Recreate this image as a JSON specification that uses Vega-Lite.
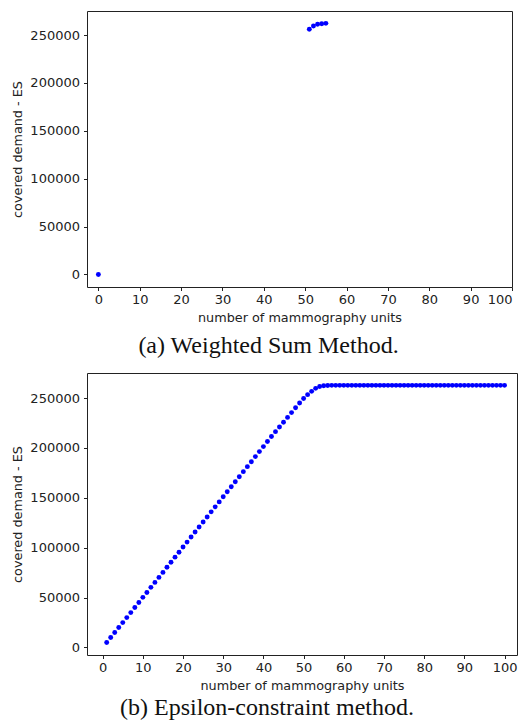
{
  "$schema": "https://vega.github.io/schema/vega-lite/v6.json",
  "padding": {"left": 11, "top": 10, "right": 3, "bottom": 3},
  "background": "white",
  "config": {
    "view": {"stroke": "#222222", "strokeWidth": 1},
    "axis": {
      "grid": false, "domain": false, "tickColor": "#222222", "tickSize": 3.5, "tickWidth": 1,
      "labelFont": "DejaVu Sans", "labelFontSize": 13, "labelColor": "#222222", "labelPadding": 3,
      "titleFont": "DejaVu Sans", "titleFontSize": 12.8, "titleFontWeight": "normal", "titleColor": "#222222"
    },
    "title": {"font": "Liberation Serif", "fontSize": 24, "fontWeight": "normal", "color": "#111111"}
  },
  "datasets": {
    "ws": [
      {"units": 0, "demand": 0},
      {"units": 51, "demand": 256000},
      {"units": 52, "demand": 259400},
      {"units": 53, "demand": 261200},
      {"units": 54, "demand": 261800},
      {"units": 55, "demand": 262200}
    ],
    "eps": [
      {"units": 1, "demand": 4900}, {"units": 2, "demand": 9900}, {"units": 3, "demand": 14900},
      {"units": 4, "demand": 19900}, {"units": 5, "demand": 24900}, {"units": 6, "demand": 29900},
      {"units": 7, "demand": 34900}, {"units": 8, "demand": 40000}, {"units": 9, "demand": 45000},
      {"units": 10, "demand": 50200}, {"units": 11, "demand": 55100}, {"units": 12, "demand": 60200},
      {"units": 13, "demand": 65200}, {"units": 14, "demand": 70200}, {"units": 15, "demand": 75200},
      {"units": 16, "demand": 80400}, {"units": 17, "demand": 85400}, {"units": 18, "demand": 90500},
      {"units": 19, "demand": 95400}, {"units": 20, "demand": 100700}, {"units": 21, "demand": 105600},
      {"units": 22, "demand": 110700}, {"units": 23, "demand": 115700}, {"units": 24, "demand": 120700},
      {"units": 25, "demand": 125800}, {"units": 26, "demand": 130800}, {"units": 27, "demand": 135900},
      {"units": 28, "demand": 140900}, {"units": 29, "demand": 145900}, {"units": 30, "demand": 151000},
      {"units": 31, "demand": 156000}, {"units": 32, "demand": 161000}, {"units": 33, "demand": 166100},
      {"units": 34, "demand": 171100}, {"units": 35, "demand": 176200}, {"units": 36, "demand": 181200},
      {"units": 37, "demand": 186200}, {"units": 38, "demand": 191300}, {"units": 39, "demand": 196300},
      {"units": 40, "demand": 201300}, {"units": 41, "demand": 206400}, {"units": 42, "demand": 211400},
      {"units": 43, "demand": 216300}, {"units": 44, "demand": 221000}, {"units": 45, "demand": 225800},
      {"units": 46, "demand": 230600}, {"units": 47, "demand": 235400}, {"units": 48, "demand": 240200},
      {"units": 49, "demand": 245000}, {"units": 50, "demand": 249600}, {"units": 51, "demand": 253400},
      {"units": 52, "demand": 256700}, {"units": 53, "demand": 259700}, {"units": 54, "demand": 261500},
      {"units": 55, "demand": 262300}, {"units": 56, "demand": 262600}, {"units": 57, "demand": 262700},
      {"units": 58, "demand": 262700}, {"units": 59, "demand": 262700}, {"units": 60, "demand": 262700},
      {"units": 61, "demand": 262700}, {"units": 62, "demand": 262700}, {"units": 63, "demand": 262700},
      {"units": 64, "demand": 262700}, {"units": 65, "demand": 262700}, {"units": 66, "demand": 262700},
      {"units": 67, "demand": 262700}, {"units": 68, "demand": 262700}, {"units": 69, "demand": 262700},
      {"units": 70, "demand": 262700}, {"units": 71, "demand": 262700}, {"units": 72, "demand": 262700},
      {"units": 73, "demand": 262700}, {"units": 74, "demand": 262700}, {"units": 75, "demand": 262700},
      {"units": 76, "demand": 262700}, {"units": 77, "demand": 262700}, {"units": 78, "demand": 262700},
      {"units": 79, "demand": 262700}, {"units": 80, "demand": 262700}, {"units": 81, "demand": 262700},
      {"units": 82, "demand": 262700}, {"units": 83, "demand": 262700}, {"units": 84, "demand": 262700},
      {"units": 85, "demand": 262700}, {"units": 86, "demand": 262700}, {"units": 87, "demand": 262700},
      {"units": 88, "demand": 262700}, {"units": 89, "demand": 262700}, {"units": 90, "demand": 262700},
      {"units": 91, "demand": 262700}, {"units": 92, "demand": 262700}, {"units": 93, "demand": 262700},
      {"units": 94, "demand": 262700}, {"units": 95, "demand": 262700}, {"units": 96, "demand": 262700},
      {"units": 97, "demand": 262700}, {"units": 98, "demand": 262700}, {"units": 99, "demand": 262700},
      {"units": 100, "demand": 262700}
    ]
  },
  "spacing": 13,
  "vconcat": [
    {
      "width": 425,
      "height": 276,
      "title": {"text": "(a) Weighted Sum Method.", "orient": "bottom", "anchor": "middle", "offset": 10, "dx": -31},
      "data": {"name": "ws"},
      "mark": {"type": "circle", "size": 24, "color": "#0000ff", "opacity": 1},
      "encoding": {
        "x": {
          "field": "units", "type": "quantitative",
          "scale": {"domain": [-2.75, 100], "nice": false, "zero": false},
          "axis": {"values": [0, 10, 20, 30, 40, 50, 60, 70, 80, 90, 100], "title": "number of mammography units", "titlePadding": 5}
        },
        "y": {
          "field": "demand", "type": "quantitative",
          "scale": {"domain": [-13100, 275100], "nice": false, "zero": false},
          "axis": {"values": [0, 50000, 100000, 150000, 200000, 250000], "format": "d", "title": "covered demand - ES", "titlePadding": 5, "labelPadding": 4}
        }
      }
    },
    {
      "width": 430,
      "height": 282,
      "title": {"text": "(b) Epsilon-constraint method.", "orient": "bottom", "anchor": "middle", "offset": 4, "dx": -35},
      "data": {"name": "eps"},
      "mark": {"type": "circle", "size": 24, "color": "#0000ff", "opacity": 1},
      "encoding": {
        "x": {
          "field": "units", "type": "quantitative",
          "scale": {"domain": [-3.9, 103.1], "nice": false, "zero": false},
          "axis": {"values": [0, 10, 20, 30, 40, 50, 60, 70, 80, 90, 100], "title": "number of mammography units", "titlePadding": 5}
        },
        "y": {
          "field": "demand", "type": "quantitative",
          "scale": {"domain": [-7600, 275100], "nice": false, "zero": false},
          "axis": {"values": [0, 50000, 100000, 150000, 200000, 250000], "format": "d", "title": "covered demand - ES", "titlePadding": 5, "labelPadding": 4}
        }
      }
    }
  ]
}
